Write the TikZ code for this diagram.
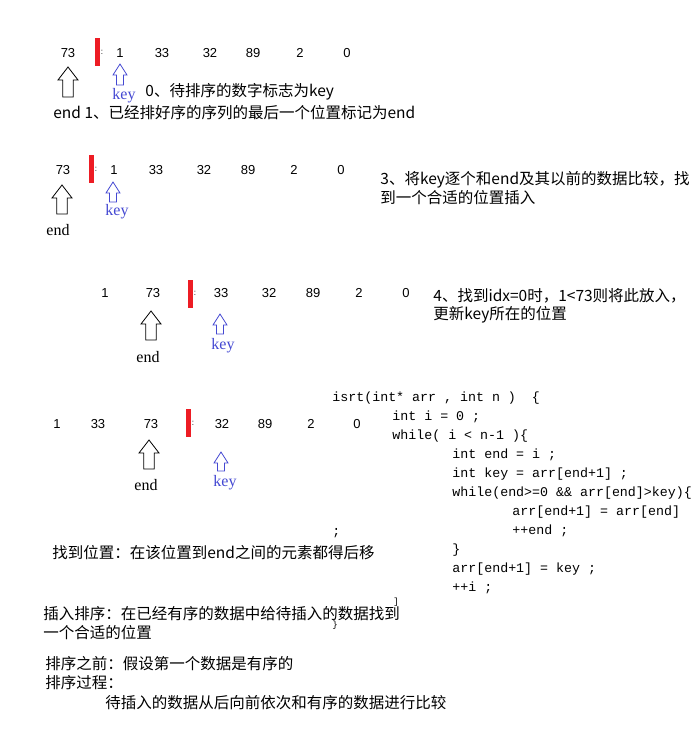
\documentclass[tikz,border=0pt]{standalone}
\usepackage{fontspec}
\newfontfamily\cjkfont{Noto Sans CJK SC}
\newfontfamily\numfont{Liberation Sans}
\newfontfamily\codefont{Liberation Mono}
\newfontfamily\lblfont{Liberation Serif}
\definecolor{barred}{RGB}{237,28,36}
\definecolor{keyblue}{RGB}{68,72,210}

\tikzset{
  num/.style={font=\numfont\fontsize{13}{15}\selectfont, inner sep=0pt},
  dots/.style={font=\numfont\fontsize{8}{9}\selectfont, inner sep=0pt},
  note/.style={font=\cjkfont\fontsize{15.5}{19}\selectfont, anchor=base west, inner sep=0pt},
  code/.style={font=\codefont\fontsize{13.3}{19}\selectfont, anchor=base west, inner sep=0pt},
  stray/.style={font=\codefont\fontsize{9}{10}\selectfont, anchor=base west, inner sep=0pt},
  endlbl/.style={font=\lblfont\fontsize{16}{18}\selectfont, inner sep=0pt},
  keylbl/.style={endlbl, text=keyblue},
  bar/.style={fill=barred, draw=none, minimum width=5pt, minimum height=28pt, inner sep=0pt},
  pics/hollowup/.style args={#1/#2/#3/#4}{code={
    \draw (0,0) -- (#2/2,#4) -- (#3/2,#4) -- (#3/2,#1) -- (-#3/2,#1)
      -- (-#3/2,#4) -- (-#2/2,#4) -- cycle;
  }},
}

\begin{document}
\begin{tikzpicture}[x=1pt, y=-1pt, line width=0.8pt]
  \useasboundingbox (0,0) rectangle (692,750);

  % Row 1: start
  \node[num] (a73) at (68,53) {73};
  \node[bar] (abar) at (97.5,51.5) {};
  \node[dots] (adot) at (102,52) {:};
  \node[num] (a1) at (120,53) {1};
  \node[num] (a33) at (162,53) {33};
  \node[num] (a32) at (210,53) {32};
  \node[num] (a89) at (253,53) {89};
  \node[num] (a2) at (300,53) {2};
  \node[num] (a0) at (347,53) {0};
  \pic at (68,67) {hollowup={30/20/10.5/13}};
  \pic[keyblue] at (120,64) {hollowup={21/14/7/11}};
  \node[keylbl] (akey) at (124,96) {key};
  \node[note] (t0) at (145,96) {0、待排序的数字标志为key};
  \node[note] (t1) at (53,118) {end 1、已经排好序的序列的最后一个位置标记为end};

  % Row 2: compare
  \node[num] (b73) at (63,170) {73};
  \node[bar] (bbar) at (91.5,169) {};
  \node[dots] (bdot) at (96,169) {:};
  \node[num] (b1) at (114,170) {1};
  \node[num] (b33) at (156,170) {33};
  \node[num] (b32) at (204,170) {32};
  \node[num] (b89) at (248,170) {89};
  \node[num] (b2) at (294,170) {2};
  \node[num] (b0) at (341,170) {0};
  \pic at (62,185) {hollowup={29/20/10.5/13}};
  \pic[keyblue] at (113,182) {hollowup={20/14/7/11}};
  \node[keylbl] (bkey) at (117,212) {key};
  \node[endlbl] (bend) at (58,230) {end};
  \node[note] (t3a) at (380,184) {3、将key逐个和end及其以前的数据比较，找};
  \node[note] (t3b) at (380,203) {到一个合适的位置插入};

  % Row 3: 1 goes in front
  \node[num] (c1) at (105,293) {1};
  \node[num] (c73) at (153,293) {73};
  \node[bar] (cbar) at (190.5,293.5) {};
  \node[dots] (cdot) at (195,293) {:};
  \node[num] (c33) at (221,293) {33};
  \node[num] (c32) at (269,293) {32};
  \node[num] (c89) at (313,293) {89};
  \node[num] (c2) at (359,293) {2};
  \node[num] (c0) at (406,293) {0};
  \pic at (151,311) {hollowup={29/20/10.5/13}};
  \pic[keyblue] at (220,314) {hollowup={20/14/7/11}};
  \node[keylbl] (ckey) at (223,346) {key};
  \node[endlbl] (cend) at (148,357) {end};
  \node[note] (t4a) at (433,301) {4、找到idx=0时，1<73则将此放入，};
  \node[note] (t4b) at (433,319) {更新key所在的位置};

  % Row 4: next key
  \node[num] (d1) at (57,424) {1};
  \node[num] (d33) at (98,424) {33};
  \node[num] (d73) at (151,424) {73};
  \node[bar] (dbar) at (188.5,423) {};
  \node[dots] (ddot) at (193,423) {:};
  \node[num] (d32) at (222,424) {32};
  \node[num] (d89) at (265,424) {89};
  \node[num] (d2) at (311,424) {2};
  \node[num] (d0) at (357,424) {0};
  \pic at (149,440) {hollowup={29/20/10.5/13}};
  \pic[keyblue] at (221,452) {hollowup={19/14/7/11}};
  \node[keylbl] (dkey) at (225,483) {key};
  \node[endlbl] (dend) at (146,485) {end};

  % Code
  \node[code] (l1) at (332,401) {isrt(int* arr , int n ) ~\{};
  \node[code] (l2) at (392,420) {int i = 0 ;};
  \node[code] (l3) at (392,439) {while( i < n-1 )\{};
  \node[code] (l4) at (452,458) {int end = i ;};
  \node[code] (l5) at (452,477) {int key = arr[end+1] ;};
  \node[code] (l6) at (452,496) {while(end>=0 \&\& arr[end]>key)\{};
  \node[code] (l7) at (512,515) {arr[end+1] = arr[end]};
  \node[code] (l8) at (512,534) {++end ;};
  \node[code] (l9) at (452,553) {\}};
  \node[code] (l10) at (452,572) {arr[end+1] = key ;};
  \node[code] (l11) at (452,591) {++i ;};
  \node[code] (s1) at (332,535) {;};
  \node[stray] (s2) at (393,604) {]};
  \node[stray] (s3) at (332,627) {\}};

  % Notes
  \node[note] (n1) at (52,558) {找到位置：在该位置到end之间的元素都得后移};
  \node[note] (n2) at (43,619) {插入排序：在已经有序的数据中给待插入的数据找到};
  \node[note] (n3) at (43,638) {一个合适的位置};
  \node[note] (n4) at (45,669) {排序之前：假设第一个数据是有序的};
  \node[note] (n5) at (45,688) {排序过程：};
  \node[note] (n6) at (105,708) {待插入的数据从后向前依次和有序的数据进行比较};
\end{tikzpicture}
\end{document}
